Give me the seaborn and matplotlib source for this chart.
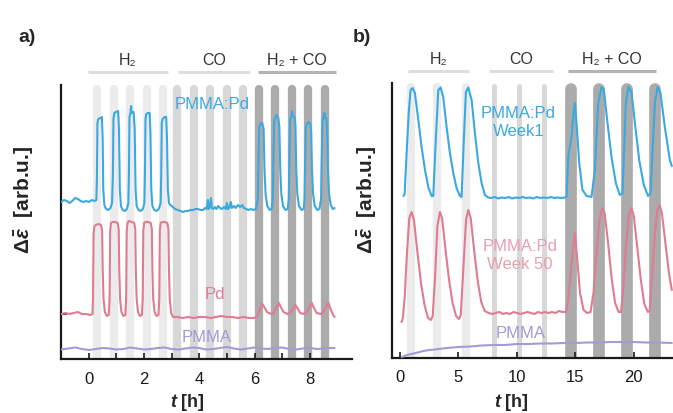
import matplotlib
matplotlib.use("Agg")
import matplotlib.pyplot as plt
import matplotlib.transforms as mtransforms
import pandas as pd
import seaborn as sns

sns.set_style("ticks")
plt.rcParams["font.family"] = ["Liberation Sans", "DejaVu Sans"]
plt.rcParams["mathtext.fontset"] = "custom"
plt.rcParams["mathtext.rm"] = "Liberation Sans:bold"
plt.rcParams["mathtext.it"] = "Liberation Sans:italic:bold"
plt.rcParams["mathtext.bf"] = "Liberation Sans:bold"

# ---------------- panel a: gas pulses (hours) ----------------
a_h2_pulses = [0.30, 0.90, 1.50, 2.10, 2.70]
a_co_pulses = [3.20, 3.80, 4.40, 5.00, 5.60]
a_mix_pulses = [6.15, 6.75, 7.35, 7.95, 8.55]

# PMMA:Pd response, panel a
a_pd_comp_t = [-1.0, -0.9, -0.8, -0.7, -0.6, -0.5, -0.4, -0.3, -0.2, -0.1, 0.0, 0.1, 0.2, 0.27,
               0.29, 0.31, 0.34, 0.42, 0.47, 0.50, 0.52, 0.56, 0.62, 0.70, 0.78, 0.84,
               0.87, 0.89, 0.92, 0.98, 1.06, 1.09, 1.12, 1.16, 1.22, 1.30, 1.38, 1.43,
               1.45, 1.47, 1.50, 1.53, 1.55, 1.62, 1.66, 1.69, 1.73, 1.80, 1.88, 1.96, 2.01,
               2.03, 2.05, 2.08, 2.14, 2.20, 2.23, 2.26, 2.30, 2.37, 2.45, 2.53, 2.60,
               2.62, 2.64, 2.67, 2.74, 2.80, 2.83, 2.86, 2.90,
               2.95, 3.04, 3.12, 3.22, 3.32, 3.41, 3.50, 3.59, 3.68, 3.77, 3.86, 3.95, 4.04, 4.13,
               4.20, 4.27, 4.31, 4.34, 4.39, 4.42, 4.45, 4.50, 4.56, 4.62, 4.68, 4.75, 4.82, 4.89,
               4.96, 5.00, 5.04, 5.10, 5.14, 5.18, 5.25, 5.32, 5.40, 5.48, 5.55, 5.62, 5.70, 5.78,
               5.87, 5.95, 6.05,
               6.12, 6.14, 6.17, 6.22, 6.28, 6.33, 6.36, 6.40, 6.46, 6.55, 6.62,
               6.66, 6.68, 6.71, 6.76, 6.80, 6.86, 6.90, 6.93, 6.97, 7.03, 7.12, 7.20,
               7.24, 7.26, 7.29, 7.33, 7.36, 7.39, 7.45, 7.48, 7.51, 7.55, 7.61, 7.70, 7.78,
               7.81, 7.83, 7.86, 7.91, 7.96, 8.02, 8.05, 8.08, 8.12, 8.18, 8.27, 8.35,
               8.41, 8.43, 8.46, 8.50, 8.53, 8.56, 8.60, 8.63, 8.66, 8.70, 8.76, 8.83, 8.90]
a_pd_comp_v = [15.7, 15.9, 15.8, 15.6, 15.8, 16.1, 16.0, 15.8, 15.7, 15.8, 15.7, 15.9, 15.8, 15.9,
               18.0, 23.6, 24.0, 24.1, 24.2, 22.0, 17.0, 15.4, 15.0, 14.9, 15.1, 15.6,
               18.5, 24.0, 24.6, 24.7, 24.8, 23.0, 17.0, 15.3, 14.9, 14.8, 15.0, 15.6,
               18.5, 24.2, 24.5, 25.3, 24.6, 24.7, 23.0, 17.0, 15.3, 14.9, 14.8, 15.0, 15.6,
               18.5, 24.0, 24.5, 24.6, 24.6, 22.5, 17.0, 15.3, 14.9, 14.8, 15.0, 15.6,
               18.5, 23.6, 24.0, 24.2, 24.2, 22.0, 17.0, 15.6,
               15.4, 15.2, 15.0, 14.9, 14.8, 14.7, 14.8, 14.8, 14.9, 14.9, 15.0, 15.0, 14.9, 14.9,
               15.1, 15.0, 15.9, 15.0, 15.2, 16.1, 15.1, 15.0, 15.2, 15.0, 15.3, 15.1, 15.0, 15.2,
               15.0, 15.6, 15.0, 15.2, 15.7, 15.1, 15.3, 15.1, 15.4, 15.2, 15.4, 15.1, 15.0, 14.9,
               15.0, 14.9, 15.0,
               16.0, 19.5, 23.2, 23.5, 23.6, 23.0, 19.0, 16.5, 15.3, 14.9, 15.0,
               16.0, 19.5, 23.8, 24.2, 24.4, 24.1, 23.2, 19.0, 16.5, 15.3, 14.9, 15.0,
               16.0, 19.5, 23.9, 24.3, 24.8, 24.3, 24.2, 23.3, 19.0, 16.5, 15.3, 14.9, 15.0,
               16.0, 19.5, 23.2, 23.6, 23.7, 23.5, 22.8, 19.0, 16.5, 15.3, 14.9, 15.0,
               16.0, 19.5, 23.8, 24.2, 24.6, 24.1, 24.1, 23.0, 19.0, 16.5, 15.4, 15.0, 15.1]

# Pd response, panel a
a_pd_t = [-1.0, -0.85, -0.7, -0.55, -0.4, -0.25, -0.1, 0.05, 0.13,
          0.15, 0.17, 0.20, 0.25, 0.35, 0.44, 0.48, 0.50, 0.53, 0.58, 0.65, 0.72,
          0.75, 0.77, 0.80, 0.85, 0.95, 1.04, 1.08, 1.10, 1.13, 1.18, 1.25, 1.32,
          1.35, 1.37, 1.40, 1.45, 1.55, 1.64, 1.68, 1.70, 1.73, 1.78, 1.85, 1.92,
          1.95, 1.97, 2.00, 2.05, 2.15, 2.24, 2.28, 2.30, 2.33, 2.38, 2.45, 2.52,
          2.55, 2.57, 2.60, 2.65, 2.75, 2.84, 2.88, 2.90, 2.93, 2.98, 3.05,
          3.2, 3.4, 3.6, 3.8, 4.0, 4.2, 4.4, 4.6, 4.8, 5.0, 5.2, 5.4, 5.6, 5.8, 6.0,
          6.1, 6.2, 6.28, 6.35, 6.45, 6.6, 6.7, 6.8, 6.88, 6.95, 7.05, 7.2, 7.3, 7.4, 7.48,
          7.55, 7.65, 7.8, 7.9, 8.0, 8.08, 8.15, 8.25, 8.4, 8.5, 8.6, 8.68, 8.75, 8.85, 8.9]
a_pd_v = [4.5, 4.6, 4.5, 4.6, 4.7, 4.5, 4.5, 4.4, 4.5,
          6.0, 12.5, 13.3, 13.4, 13.5, 13.4, 12.8, 9.0, 6.0, 4.7, 4.3, 4.4,
          6.0, 12.8, 13.6, 13.7, 13.7, 13.6, 13.0, 9.0, 6.0, 4.7, 4.3, 4.4,
          6.0, 12.8, 13.6, 13.8, 13.7, 13.6, 13.0, 9.0, 6.0, 4.7, 4.3, 4.4,
          6.0, 12.8, 13.6, 13.7, 13.7, 13.6, 13.0, 9.0, 6.0, 4.7, 4.3, 4.4,
          6.0, 12.8, 13.6, 13.7, 13.7, 13.6, 13.0, 9.0, 6.0, 4.6, 4.2,
          4.2, 4.1, 4.2, 4.1, 4.2, 4.2, 4.1, 4.2, 4.3, 4.2, 4.2, 4.1, 4.2, 4.1, 4.1,
          4.3, 5.0, 5.5, 5.2, 4.7, 4.5, 4.6, 5.2, 5.6, 5.2, 4.7, 4.5, 4.6, 5.1, 5.4,
          5.1, 4.6, 4.5, 4.7, 5.3, 5.6, 5.1, 4.6, 4.5, 4.7, 5.3, 5.6, 5.0, 4.4, 4.2]

# PMMA reference, panel a
a_pmma_t = [-1.0, -0.75, -0.5, -0.25, 0.0, 0.25, 0.5, 0.75, 1.0, 1.25, 1.5, 1.75, 2.0, 2.25,
            2.5, 2.75, 3.0, 3.25, 3.5, 3.75, 4.0, 4.25, 4.5, 4.75, 5.0, 5.25, 5.5, 5.75,
            6.0, 6.25, 6.5, 6.75, 7.0, 7.25, 7.5, 7.75, 8.0, 8.25, 8.5, 8.75, 8.9]
a_pmma_v = [0.95, 1.05, 1.15, 1.0, 0.9, 1.0, 1.1, 1.05, 0.95, 1.0, 1.15, 1.05, 0.95, 1.0,
            1.1, 1.15, 1.0, 0.95, 1.05, 1.15, 1.1, 0.95, 1.0, 1.1, 1.2, 1.05, 0.95, 1.05,
            1.15, 1.05, 1.0, 1.1, 1.15, 1.0, 0.95, 1.05, 1.1, 1.0, 1.05, 1.1, 1.1]

# ---------------- panel b ----------------
b_h2_pulses = [0.95, 3.20, 5.65]
b_co_pulses = [8.05, 10.20, 12.35]
b_mix_pulses = [14.60, 17.00, 19.40, 21.80]

b_week1_t = [0.30, 0.40, 0.57, 0.75, 0.91, 1.08, 1.28, 1.57, 1.85, 2.14, 2.42, 2.71,
             2.85, 3.05, 3.28, 3.48, 3.70, 3.99, 4.27, 4.56, 4.84, 5.13,
             5.27, 5.45, 5.64, 5.84, 6.13, 6.41, 6.70, 6.98, 7.26, 7.55,
             7.8, 8.1, 8.4, 8.7, 9.0, 9.3, 9.6, 9.9, 10.2, 10.5, 10.8, 11.1, 11.4, 11.7,
             12.0, 12.3, 12.6, 12.9, 13.2, 13.5, 13.8, 14.1, 14.25,
             14.39, 14.67, 14.85, 14.96, 15.10, 15.33, 15.61, 15.96, 16.38,
             16.67, 16.95, 17.24, 17.44, 17.72, 18.09, 18.46, 18.80,
             19.03, 19.32, 19.54, 19.80, 20.09, 20.46, 20.85, 21.22,
             21.43, 21.80, 22.03, 22.28, 22.65, 23.08, 23.25]
b_week1_v = [16.2, 16.4, 20.5, 24.5, 26.8, 27.0, 26.5, 23.8, 21.1, 18.8, 17.1, 16.2,
             16.2, 21.5, 26.8, 27.05, 26.1, 23.1, 20.5, 18.5, 17.0, 16.2,
             16.1, 21.5, 26.6, 27.05, 25.8, 22.5, 19.5, 17.5, 16.3, 16.05,
             16.0, 16.1, 15.95, 16.05, 16.0, 16.1, 15.95, 16.05, 16.0, 16.1, 16.0, 16.05, 15.95, 16.1,
             16.0, 16.05, 16.0, 16.1, 16.0, 16.05, 16.0, 16.05, 16.1,
             20.1, 22.1, 24.5, 25.5, 23.5, 19.5, 16.8, 16.2, 16.1,
             18.8, 25.5, 27.1, 26.8, 23.8, 20.1, 17.5, 16.3,
             16.5, 25.5, 27.1, 26.6, 23.5, 19.8, 17.3, 16.2,
             16.5, 25.5, 27.1, 26.5, 23.1, 19.8, 19.2]

b_week50_t = [0.14, 0.25, 0.4, 0.6, 0.8, 1.0, 1.2, 1.5, 1.8, 2.1, 2.4, 2.65,
              2.8, 3.0, 3.2, 3.42, 3.6, 3.9, 4.2, 4.5, 4.8, 5.05,
              5.2, 5.4, 5.65, 5.84, 6.05, 6.35, 6.65, 6.95, 7.25, 7.6,
              7.9, 8.2, 8.5, 8.8, 9.1, 9.4, 9.7, 10.0, 10.3, 10.6, 10.9, 11.2, 11.5, 11.8,
              12.1, 12.4, 12.7, 13.0, 13.3, 13.6, 13.9, 14.2,
              14.4, 14.6, 14.8, 14.96, 15.15, 15.4, 15.7, 16.0, 16.3,
              16.55, 16.8, 17.05, 17.3, 17.5, 17.8, 18.1, 18.4, 18.7, 18.9,
              19.1, 19.35, 19.6, 19.8, 20.0, 20.3, 20.6, 20.9, 21.2, 21.35,
              21.55, 21.8, 22.0, 22.2, 22.4, 22.7, 23.0, 23.25]
b_week50_v = [3.6, 4.0, 6.0, 10.5, 14.0, 14.6, 13.8, 10.5, 7.5, 5.3, 4.0, 3.8,
              4.2, 8.0, 13.2, 14.6, 14.0, 10.8, 7.8, 5.5, 4.2, 3.9,
              4.3, 8.5, 13.8, 14.8, 14.0, 10.7, 7.7, 5.6, 4.7, 4.5,
              4.4, 4.5, 4.6, 4.4, 4.5, 4.4, 4.6, 4.5, 4.4, 4.5, 4.6, 4.5, 4.4, 4.6,
              4.5, 4.6, 4.5, 4.6, 4.5, 4.7, 4.6, 4.6,
              6.0, 8.5, 11.0, 12.5, 10.0, 6.5, 4.8, 4.5, 4.6,
              6.5, 10.5, 13.8, 15.0, 14.5, 11.5, 8.0, 5.5, 4.6, 4.6,
              7.0, 11.5, 14.5, 15.0, 14.2, 11.0, 7.8, 5.4, 4.6, 4.7,
              8.0, 12.5, 14.8, 15.3, 14.5, 11.5, 8.5, 6.8]

b_pmma_t = [0.14, 0.3, 0.6, 1.0, 1.5, 2.0, 2.5, 3.0, 4.0, 5.0, 6.0, 7.0, 8.0, 9.0, 10.0,
            11.0, 12.0, 13.0, 14.0, 15.0, 16.0, 17.0, 18.0, 19.0, 20.0, 21.0, 22.0, 23.25]
b_pmma_v = [0.1, 0.15, 0.3, 0.4, 0.55, 0.7, 0.8, 0.85, 1.0, 1.1, 1.15, 1.25, 1.3, 1.3, 1.4,
            1.4, 1.45, 1.45, 1.5, 1.5, 1.55, 1.55, 1.6, 1.6, 1.6, 1.55, 1.55, 1.5]

BLUE = "#3aa9e1"
PINK = "#e07b91"
PURPLE = "#a39bd8"
BAR_H2 = "#ebebeb"
BAR_CO = "#d8d8d8"
BAR_MIX = "#ababab"
HEAD_LIGHT = "#dedede"
HEAD_DARK = "#b4b4b4"
TXT = "#333333"

W, H, DPI = 6.73, 4.13, 100
fig = plt.figure(figsize=(W, H), dpi=DPI)
fig.patch.set_facecolor("white")

ax_a = fig.add_axes([61 / 673, 1 - 359 / 413, 291 / 673, 274 / 413])
ax_b = fig.add_axes([392 / 673, 1 - 358 / 413, 281 / 673, 275 / 413])


def draw_pulses(ax, groups, ytop):
    """Rounded-top vertical bars marking the gas exposure windows."""
    height_px = ax.get_position().height * H * DPI
    for pulses, color, width_px in groups:
        r = (width_px / 2) * ytop / height_px
        lc = ax.vlines(pulses, -2, ytop - r, colors=color, linewidth=width_px * 72 / DPI, zorder=0)
        lc.set_capstyle("round")


def header(ax, spans, y_text, y_line):
    tr = mtransforms.blended_transform_factory(ax.transData, ax.transAxes)
    for (x0, x1), label, color in spans:
        ax.plot([x0, x1], [y_line, y_line], color=color, lw=2.2, transform=tr,
                clip_on=False, solid_capstyle="butt")
        ax.text((x0 + x1) / 2, y_text, label, transform=tr, ha="center", va="center",
                fontsize=11.5, color=TXT)


def traces(ax, series):
    frames = []
    for name, t, v in series:
        frames.append(pd.DataFrame({"t": t, "v": v, "series": name}))
    df = pd.concat(frames, ignore_index=True)
    pal = {name: c for name, c in zip([s[0] for s in series], [BLUE, PINK, PURPLE])}
    sns.lineplot(data=df, x="t", y="v", hue="series", palette=pal, estimator=None,
                 sort=False, legend=False, linewidth=1.5, ax=ax, zorder=3)


def style(ax):
    sns.despine(ax=ax)
    for s in ("left", "bottom"):
        ax.spines[s].set_linewidth(1.6)
        ax.spines[s].set_color("#1a1a1a")
    ax.tick_params(axis="both", which="both", direction="in", length=4, width=1.2,
                   labelsize=12, pad=9, colors="#1a1a1a")
    ax.set_xlabel(r"$t$ [h]", fontsize=13, fontweight="bold")
    ax.set_ylabel(r"$\Delta\bar{\varepsilon}$  [arb.u.]", fontsize=15, fontweight="bold")


# ---- panel a ----
YA = 27.4
ax_a.set_xlim(-1.01, 9.53)
ax_a.set_ylim(0, YA)
draw_pulses(ax_a, [(a_h2_pulses, BAR_H2, 8.3), (a_co_pulses, BAR_CO, 8.3),
                   (a_mix_pulses, BAR_MIX, 8.3)], YA)
traces(ax_a, [("PMMA:Pd", a_pd_comp_t, a_pd_comp_v), ("Pd", a_pd_t, a_pd_v),
              ("PMMA", a_pmma_t, a_pmma_v)])
style(ax_a)
ax_a.set_xticks([0, 2, 4, 6, 8])
ax_a.set_xticks([1, 3, 5, 7], minor=True)
ax_a.set_yticks([4.5])
ax_a.set_yticklabels([])
ax_a.xaxis.set_label_coords(0.436, -0.12)
ax_a.yaxis.set_label_coords(-0.085, 0.58)
header(ax_a, [((-0.04, 2.86), "H₂", HEAD_LIGHT), ((3.22, 5.83), "CO", HEAD_LIGHT),
              ((6.12, 8.95), "H₂ + CO", HEAD_DARK)], 1.091, 1.047)
ax_a.text(0.52, 0.929, "PMMA:Pd", transform=ax_a.transAxes, ha="center", va="center",
          fontsize=12, color=BLUE)
ax_a.text(0.529, 0.234, "Pd", transform=ax_a.transAxes, ha="center", va="center",
          fontsize=12, color=PINK)
ax_a.text(0.502, 0.080, "PMMA", transform=ax_a.transAxes, ha="center", va="center",
          fontsize=12, color=PURPLE)

# ---- panel b ----
YB = 27.5
ax_b.set_xlim(-0.68, 23.35)
ax_b.set_ylim(0, YB)
draw_pulses(ax_b, [(b_h2_pulses, BAR_H2, 8.3), (b_co_pulses, BAR_CO, 5.0),
                   (b_mix_pulses, BAR_MIX, 11.7)], YB)
traces(ax_b, [("Week1", b_week1_t, b_week1_v), ("Week 50", b_week50_t, b_week50_v),
              ("PMMA", b_pmma_t, b_pmma_v)])
style(ax_b)
ax_b.set_xticks([0, 5, 10, 15, 20])
ax_b.set_yticks([])
ax_b.xaxis.set_label_coords(0.424, -0.124)
ax_b.yaxis.set_label_coords(-0.045, 0.575)
header(ax_b, [((0.68, 5.9), "H₂", HEAD_LIGHT), ((7.6, 13.1), "CO", HEAD_LIGHT),
              ((14.4, 21.9), "H₂ + CO", HEAD_DARK)], 1.087, 1.044)
ax_b.text(0.45, 0.855, "PMMA:Pd\nWeek1", transform=ax_b.transAxes, ha="center", va="center",
          fontsize=12, color=BLUE, linespacing=1.25)
ax_b.text(0.455, 0.373, "PMMA:Pd\nWeek 50", transform=ax_b.transAxes, ha="center",
          va="center", fontsize=12, color="#e8a0ae", linespacing=1.25)
ax_b.text(0.459, 0.089, "PMMA", transform=ax_b.transAxes, ha="center", va="center",
          fontsize=12, color=PURPLE)

fig.text(27 / 673, 1 - 37 / 413, "a)", fontsize=14, fontweight="bold", ha="center", va="center")
fig.text(362 / 673, 1 - 37 / 413, "b)", fontsize=14, fontweight="bold", ha="center", va="center")

fig.savefig("out.png", dpi=DPI, facecolor="white")
